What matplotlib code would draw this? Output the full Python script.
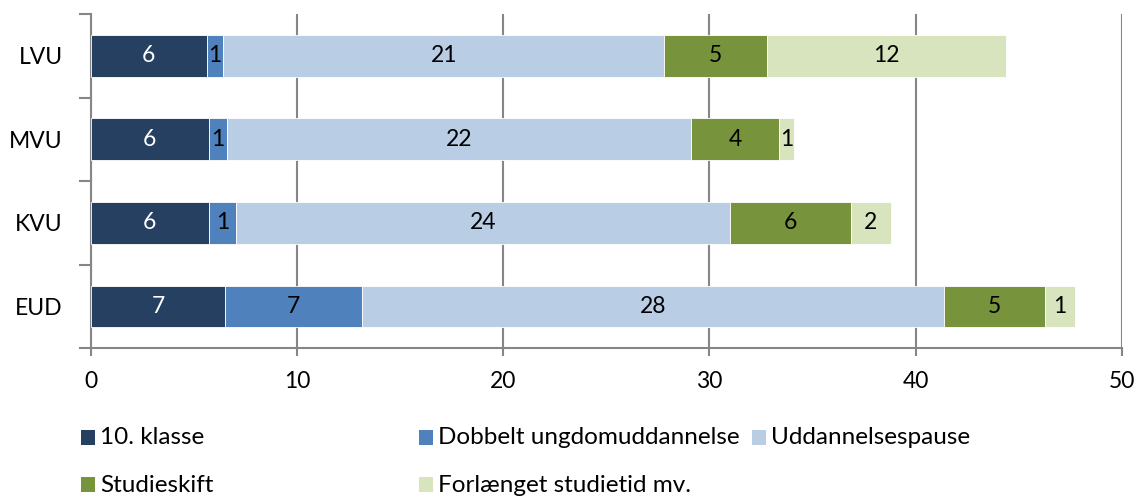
import numpy as np
import matplotlib
matplotlib.use("Agg")
import matplotlib.pyplot as plt
from matplotlib.patches import Rectangle

plt.rcParams['font.family'] = ['Lato', 'DejaVu Sans']

# Data, top to bottom
categories = ["LVU", "MVU", "KVU", "EUD"]
series_names = ["10. klasse", "Dobbelt ungdomuddannelse", "Uddannelsespause",
                "Studieskift", "Forlænget studietid mv."]
klasse10 = [5.64, 5.74, 5.74, 6.52]
dobbelt = [0.79, 0.88, 1.29, 6.62]
pause = [21.37, 22.48, 23.97, 28.26]
skift = [4.98, 4.28, 5.87, 4.88]
forlaenget = [11.62, 0.71, 1.93, 1.44]
x_ticks = [0, 10, 20, 30, 40, 50]

colors = ["#254061", "#4F81BD", "#B9CDE5", "#77933C", "#D7E4BD"]
label_colors = ["white", "black", "black", "black", "black"]

series = [klasse10, dobbelt, pause, skift, forlaenget]
FS = 16.5

fig = plt.figure(figsize=(11.37, 4.97), dpi=100)
ax = fig.add_axes([0.0798, 0.2992, 0.9068, 0.6726])

y = np.arange(len(categories))
left = np.zeros(len(categories))
grid_c = "#868686"

for vals, col, lc in zip(series, colors, label_colors):
    vals = np.array(vals)
    ax.barh(y, vals, left=left, height=0.5, color=col, edgecolor="white",
            linewidth=0.6, zorder=3)
    for yi, (l, v) in enumerate(zip(left, vals)):
        ax.text(l + v / 2, yi, f"{v:.0f}", ha="center", va="center",
                fontsize=FS, color=lc, zorder=4)
    left += vals

ax.set_xlim(0, 50)
ax.set_ylim(3.5, -0.5)
ax.set_xticks(x_ticks)
ax.set_xticklabels([str(t) for t in x_ticks], fontsize=FS)
ax.xaxis.grid(True, color=grid_c, linewidth=1.5, zorder=0)
ax.set_axisbelow(True)

# category labels without ticks; boundary ticks as minor
ax.set_yticks(y)
ax.set_yticklabels(categories, fontsize=FS)
ax.tick_params(axis="y", which="major", length=0, pad=20)
ax.set_yticks(np.arange(-0.5, len(categories), 1.0), minor=True)
ax.tick_params(axis="y", which="minor", length=9, width=1.5, color=grid_c)
ax.tick_params(axis="x", length=6, width=1.5, color=grid_c, pad=10)

for s in ["top", "right"]:
    ax.spines[s].set_visible(False)
for s in ["left", "bottom"]:
    ax.spines[s].set_color(grid_c)
    ax.spines[s].set_linewidth(1.5)

# legend laid out like the original (two rows, fixed column widths)
col_x = [81, 419, 752]
row_y = [438, 485]
W, H = 1137, 497
order = [(0, 0), (0, 1), (0, 2), (1, 0), (1, 1)]
for (r, c), name, col in zip(order, series_names, colors):
    x0, y0 = col_x[c], row_y[r]
    fig.patches.append(Rectangle((x0 / W, 1 - (y0 + 7) / H), 14 / W, 15 / H,
                                 transform=fig.transFigure, facecolor=col,
                                 edgecolor="none"))
    fig.text((x0 + 19) / W, 1 - y0 / H, name, fontsize=17.5, ha="left",
             va="center")

fig.savefig("out.png", dpi=100)
